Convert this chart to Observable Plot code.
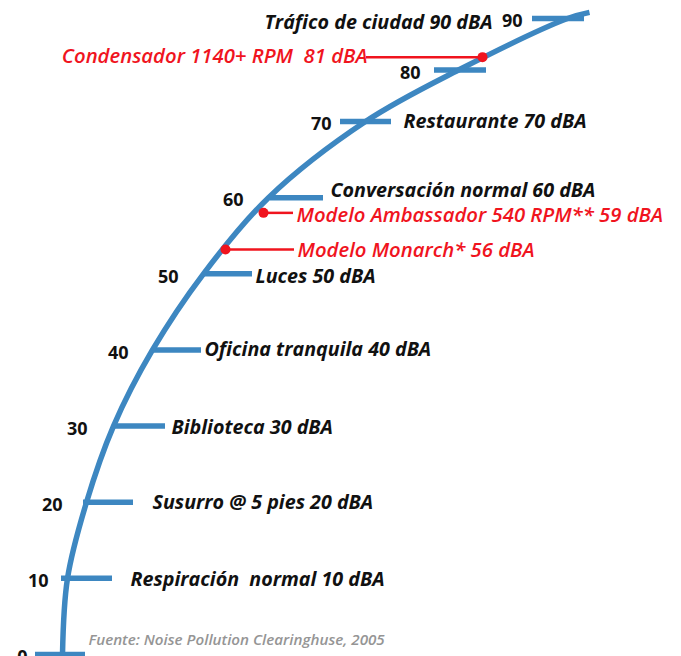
<!DOCTYPE html>
<html>
<head>
<meta charset="utf-8">
<script src="https://cdn.jsdelivr.net/npm/d3@7"></script>
<script src="https://cdn.jsdelivr.net/npm/@observablehq/plot@0.6"></script>
<style>
  html, body { margin: 0; padding: 0; background: #fff; }
  #chart svg { display: block; }
</style>
</head>
<body>
<div id="chart"></div>
<script>
// Scale levels (dBA) with their tick marks
const levels = [0, 10, 20, 30, 40, 50, 60, 70, 80, 90];
const tickFrom = [35, 61, 83, 114, 152, 204, 270, 340, 434, 532];
const tickTo   = [85, 112, 133, 165, 201, 252, 323, 391, 486, 584];
const numLabelX = [27, 48, 62, 87, 128, 178, 243, 331, 420, 522];

// Arc (sound scale curve)
const arcLevel = [0, 10, 20, 30, 40, 50, 60, 70, 80, 90, 91.2];
const arcX     = [62, 67, 86, 113, 152, 203, 268, 365, 458, 567, 589];

// Reference sounds
const refLevels = [90, 70, 60, 50, 40, 30, 20, 10];
const refLabels = [
  "Tráfico de ciudad 90 dBA",
  "Restaurante 70 dBA",
  "Conversación normal 60 dBA",
  "Luces 50 dBA",
  "Oficina tranquila 40 dBA",
  "Biblioteca 30 dBA",
  "Susurro @ 5 pies 20 dBA",
  "Respiración  normal 10 dBA"
];
const refLabelX = [492, 403, 330, 255, 204, 171, 152, 130];
const refAnchor = ["end", "start", "start", "start", "start", "start", "start", "start"];
const refDy     = [4, 0, -7, 3, 0, 2, 0, 1];

// Fan models (red)
const modelLabels = [
  "Condensador 1140+ RPM  81 dBA",
  "Modelo Ambassador 540 RPM** 59 dBA",
  "Modelo Monarch* 56 dBA"
];
const modelDb     = [81, 59, 56];
const modelLevel  = [82.5, 58.0, 53.2];   // where the dot sits on the drawn scale
const modelDotX   = [482, 263, 225];
const modelLabelX = [367, 296, 297];
const modelAnchor = ["end", "start", "start"];
const modelDy     = [-1, 3, 1];

const source = "Fuente: Noise Pollution Clearinghuse, 2005";

const BLUE = "#3d87c1";
const RED = "#f0141e";
const FONT = "'Open Sans', sans-serif";

const ticks = levels.map((l, i) => ({level: l, x1: tickFrom[i], x2: tickTo[i], nx: numLabelX[i]}));
const arc = arcLevel.map((l, i) => ({level: l, x: arcX[i]}));
const refs = refLevels.map((l, i) => ({level: l, label: refLabels[i], x: refLabelX[i], anchor: refAnchor[i], dy: refDy[i]}));
const models = modelLabels.map((t, i) => ({label: t, db: modelDb[i], level: modelLevel[i], dotX: modelDotX[i], labelX: modelLabelX[i], anchor: modelAnchor[i], dy: modelDy[i]}));

const plot = Plot.plot({
  width: 681,
  height: 656,
  margin: 0,
  x: {type: "linear", domain: [0, 681], range: [0, 681], axis: null},
  y: {type: "linear", domain: [0, 70, 90], range: [654, 121, 18], axis: null},
  style: {background: "#fff", overflow: "visible"},
  marks: [
    // tick marks
    Plot.ruleY(ticks, {y: "level", x1: "x1", x2: "x2", stroke: BLUE, strokeWidth: 5.5}),
    // arc
    Plot.line(arc, {x: "x", y: "level", curve: "catmull-rom", stroke: BLUE, strokeWidth: 5.5, strokeLinecap: "butt"}),
    // numeric labels
    Plot.text(ticks, {x: "nx", y: "level", text: d => String(d.level), textAnchor: "end", dy: 3,
      fontFamily: FONT, fontSize: 18, fontWeight: "bold", fill: "#111"}),
    // reference sound labels
    ...refs.map(d => Plot.text([d], {
      x: "x", y: "level", text: "label", textAnchor: d.anchor, dy: d.dy,
      fontFamily: FONT, fontSize: 19.7, fontWeight: "bold", fontStyle: "italic", fill: "#111"})),
    // model leader lines
    Plot.ruleY(models, {y: "level", x1: "dotX", x2: d => d.anchor === "end" ? d.labelX - 1 : d.labelX - 3, stroke: RED, strokeWidth: 2.5}),
    Plot.dot(models, {x: "dotX", y: "level", r: 5, fill: RED, stroke: "none"}),
    ...models.map(d => Plot.text([d], {
      x: "labelX", y: "level", text: "label", textAnchor: d.anchor, dy: d.dy,
      fontFamily: FONT, fontSize: 20.3, fontWeight: 600, fontStyle: "italic", fill: RED})),
    // source
    Plot.text([source], {frameAnchor: "bottom-left", dx: 88, dy: -12, textAnchor: "start",
      fontFamily: FONT, fontSize: 15.2, fontStyle: "italic", fontWeight: 600, fill: "#959595"})
  ]
});

document.getElementById("chart").appendChild(plot);
</script>
</body>
</html>
